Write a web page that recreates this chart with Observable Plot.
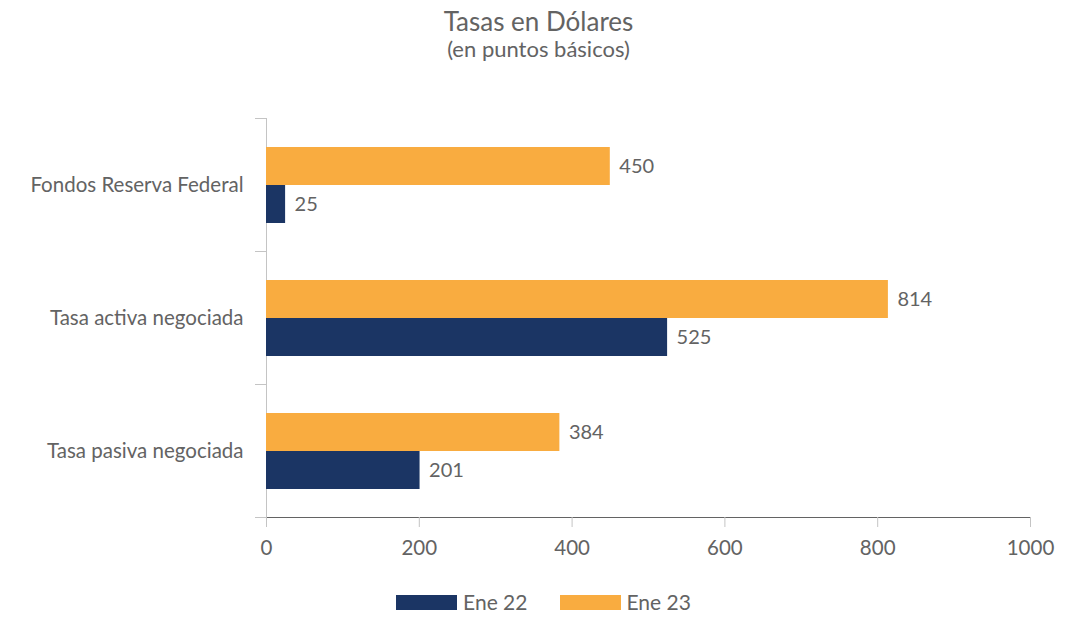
<!DOCTYPE html>
<html>
<head>
<meta charset="utf-8">
<script src="https://cdn.jsdelivr.net/npm/d3@7"></script>
<script src="https://cdn.jsdelivr.net/npm/@observablehq/plot@0.6"></script>
<style>
  body { margin: 0; background: #fff; font-family: Lato, sans-serif; font-weight: 400; color: #636363; }
  #wrap { width: 1077px; }
  #head { height: 80px; text-align: center; box-sizing: border-box; padding-top: 6px; }
  #title { font-size: 26px; line-height: 30px; }
  #subtitle { font-size: 22px; line-height: 26px; }
  #legend { display: flex; justify-content: center; gap: 32px; padding-top: 22px; font-size: 21px; line-height: 20px; padding-left: 10px; }
  .item { display: flex; align-items: center; gap: 6px; }
  .sw { width: 61px; height: 15px; display: inline-block; }
</style>
</head>
<body>
<div id="wrap">
  <div id="head"><div id="title"></div><div id="subtitle"></div></div>
  <div id="chart"></div>
  <div id="legend"></div>
</div>
<script>
const titleText = "Tasas en Dólares";
const subtitleText = "(en puntos básicos)";
const categories = ["Fondos Reserva Federal", "Tasa activa negociada", "Tasa pasiva negociada"];
const series = ["Ene 22", "Ene 23"];
const ene22 = [25, 525, 201];
const ene23 = [450, 814, 384];
const xTicks = [0, 200, 400, 600, 800, 1000];
const colors = ["#1b3564", "#f9ac40"];

document.getElementById("title").textContent = titleText;
document.getElementById("subtitle").textContent = subtitleText;

const data = categories.flatMap((c, i) => [
  {category: c, series: "Ene 23", value: ene23[i]},
  {category: c, series: "Ene 22", value: ene22[i]}
]);

const W = 1077, mL = 266, mR = 47;
const axisColor = "#c4c4c4";

const chart = Plot.plot({
  width: W,
  height: 490,
  marginLeft: mL,
  marginRight: mR,
  marginTop: 38,
  marginBottom: 53,
  style: {fontFamily: "Lato, sans-serif", fontWeight: 400, fontSize: "20.5px", color: "#636363", background: "#fff"},
  x: {domain: [0, 1000], ticks: xTicks, tickFormat: d => String(d), tickSize: 10, tickPadding: 13, label: null, line: true},
  fy: {domain: categories, padding: 0, label: null, tickSize: 0, tickPadding: 23},
  y: {domain: ["Ene 23", "Ene 22"], paddingInner: 0, paddingOuter: 0.72, axis: null},
  color: {domain: series, range: colors},
  marks: [
    Plot.frame({anchor: "top", stroke: axisColor, insetLeft: -11, insetRight: W - mL - mR}),
    Plot.frame({anchor: "bottom", stroke: axisColor, insetLeft: -11, insetRight: W - mL - mR}),
    Plot.ruleX([0], {stroke: axisColor}),
    Plot.barX(data, {fy: "category", y: "series", x: "value", fill: "series"}),
    Plot.text(data, {fy: "category", y: "series", x: "value", text: d => String(d.value),
      textAnchor: "start", dx: 9, fill: "#636363", fontSize: 20})
  ]
});
chart.querySelectorAll("[aria-label='x-axis tick'], [aria-label='x-axis line'], [aria-label='x-axis tick'] path").forEach(e => e.setAttribute("stroke", axisColor));
document.getElementById("chart").appendChild(chart);

const legend = document.getElementById("legend");
series.forEach((s, i) => {
  const it = document.createElement("div");
  it.className = "item";
  const sw = document.createElement("span");
  sw.className = "sw";
  sw.style.background = colors[i];
  const tx = document.createElement("span");
  tx.textContent = s;
  it.appendChild(sw); it.appendChild(tx);
  legend.appendChild(it);
});
</script>
</body>
</html>
